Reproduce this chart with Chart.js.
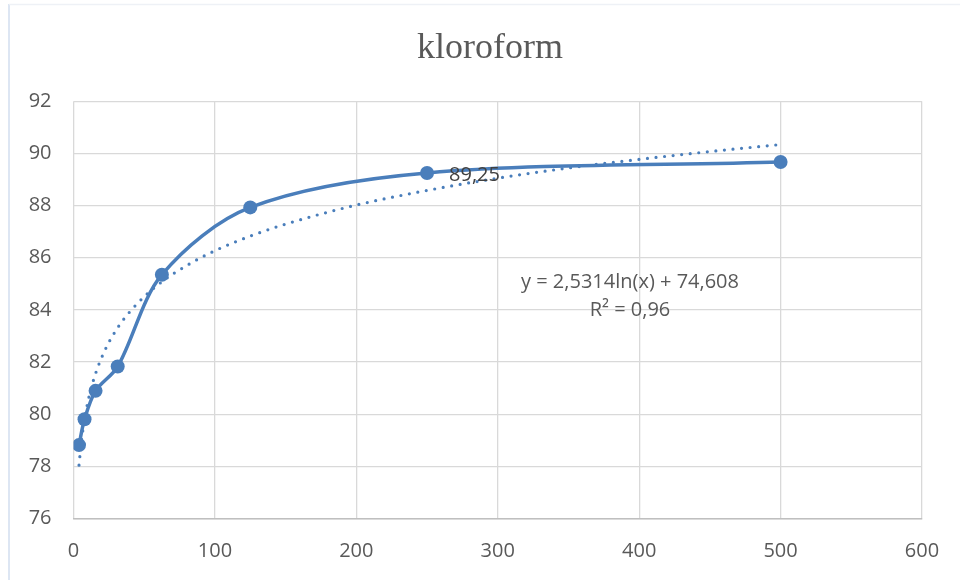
<!DOCTYPE html>
<html>
<head>
<meta charset="utf-8">
<script src="https://cdn.jsdelivr.net/npm/chart.js@4/dist/chart.umd.min.js"></script>
<style>
  html, body { margin: 0; padding: 0; background: #ffffff; }
  #wrap { position: relative; width: 960px; height: 580px; }
</style>
</head>
<body>
<div id="wrap"><canvas id="c" width="960" height="580"></canvas></div>
<script>
// ---- data ----
const xValues = [3.9, 7.8, 15.6, 31.25, 62.5, 125, 250, 500];
const yValues = [78.82, 79.81, 80.90, 81.83, 85.35, 87.93, 89.25, 89.67];

// dotted logarithmic trendline
const trendX = [3.9, 5.5, 7.8, 11, 15.6, 22, 31.25, 45, 62.5, 80, 100, 125, 150, 200, 250, 300, 350, 400, 450, 500];
const trendY = [78.05, 78.92, 79.81, 80.68, 81.56, 82.43, 83.32, 84.24, 85.08, 85.70, 86.27, 86.83, 87.29, 88.02, 88.58, 89.05, 89.44, 89.77, 90.07, 90.34];

const titleText = 'kloroform';
const labeledIndex = 6;          // point carrying the "89,25" label
const labelText = '89,25';
const equationLines = ['y = 2,5314ln(x) + 74,608', 'R\u00B2 = 0,96'];

const xTicks = [0, 100, 200, 300, 400, 500, 600];
const yTicks = [76, 78, 80, 82, 84, 86, 88, 90, 92];

const blue = '#4a7ebb';

const mainPoints = xValues.map((x, i) => ({ x, y: yValues[i] }));
const trendPoints = trendX.map((x, i) => ({ x, y: trendY[i] }));

const framePlugin = {
  id: 'frame',
  beforeDraw(chart) {
    const ctx = chart.ctx;
    ctx.save();
    ctx.fillStyle = '#ffffff';
    ctx.fillRect(0, 0, chart.width, chart.height);
    ctx.strokeStyle = '#dde6f3';
    ctx.lineWidth = 2;
    ctx.beginPath();
    ctx.moveTo(9, 4);
    ctx.lineTo(9, 580);
    ctx.stroke();
    ctx.strokeStyle = '#eef1f6';
    ctx.lineWidth = 1.5;
    ctx.beginPath();
    ctx.moveTo(9, 4.5);
    ctx.lineTo(960, 4.5);
    ctx.stroke();
    ctx.restore();
  }
};

const textPlugin = {
  id: 'texts',
  afterDatasetsDraw(chart) {
    const ctx = chart.ctx;
    const xs = chart.scales.x, ys = chart.scales.y;
    ctx.save();
    // data label
    const px = xs.getPixelForValue(xValues[labeledIndex]);
    const py = ys.getPixelForValue(yValues[labeledIndex]);
    ctx.font = '20px "Open Sans"';
    ctx.fillStyle = '#404040';
    ctx.textAlign = 'left';
    ctx.textBaseline = 'middle';
    ctx.fillText(labelText, px + 22, py + 2);
    // trendline equation
    ctx.fillStyle = '#595959';
    ctx.textAlign = 'center';
    ctx.fillText(equationLines[0], 630, 282);
    ctx.fillText(equationLines[1], 630, 310);
    ctx.restore();
  }
};

new Chart(document.getElementById('c'), {
  type: 'scatter',
  data: {
    datasets: [
      {
        label: 'kloroform',
        data: mainPoints,
        showLine: true,
        borderColor: blue,
        backgroundColor: blue,
        borderWidth: 3.5,
        pointRadius: 7,
        pointHoverRadius: 7,
        pointBorderWidth: 0,
        tension: 0.32,
        order: 0
      },
      {
        label: 'trend',
        data: trendPoints,
        showLine: true,
        borderColor: blue,
        borderWidth: 3.2,
        borderDash: [0, 8.6],
        borderCapStyle: 'round',
        pointRadius: 0,
        cubicInterpolationMode: 'monotone',
        order: 1
      }
    ]
  },
  options: {
    responsive: false,
    animation: false,
    devicePixelRatio: 1,
    layout: { padding: { left: 20, right: 0, top: 0, bottom: 0 } },
    plugins: {
      legend: { display: false },
      tooltip: { enabled: false },
      title: {
        display: true,
        text: titleText,
        color: '#595959',
        font: { family: '"Liberation Serif", "Times New Roman", serif', size: 36, weight: 'normal', lineHeight: 1.2 },
        padding: { top: 27, bottom: 31 }
      }
    },
    scales: {
      x: {
        type: 'linear',
        min: 0,
        max: 600,
        afterBuildTicks(scale) { scale.ticks = xTicks.map(v => ({ value: v })); },
        afterFit(scale) { scale.height = 61.3; scale.paddingRight = 38; },
        ticks: {
          color: '#595959',
          font: { family: '"Open Sans"', size: 20 },
          padding: 21,
          maxRotation: 0
        },
        grid: { color: '#d9d9d9', lineWidth: 1.3, drawTicks: false },
        border: { color: '#bfbfbf', width: 1.5 }
      },
      y: {
        type: 'linear',
        min: 76,
        max: 92,
        afterBuildTicks(scale) { scale.ticks = yTicks.map(v => ({ value: v })); },
        afterFit(scale) { scale.width = 53.5; },
        ticks: {
          color: '#595959',
          font: { family: '"Open Sans"', size: 20 },
          padding: 22
        },
        grid: { color: '#d9d9d9', lineWidth: 1.3, drawTicks: false },
        border: { display: false }
      }
    }
  },
  plugins: [framePlugin, textPlugin]
});
</script>
</body>
</html>
